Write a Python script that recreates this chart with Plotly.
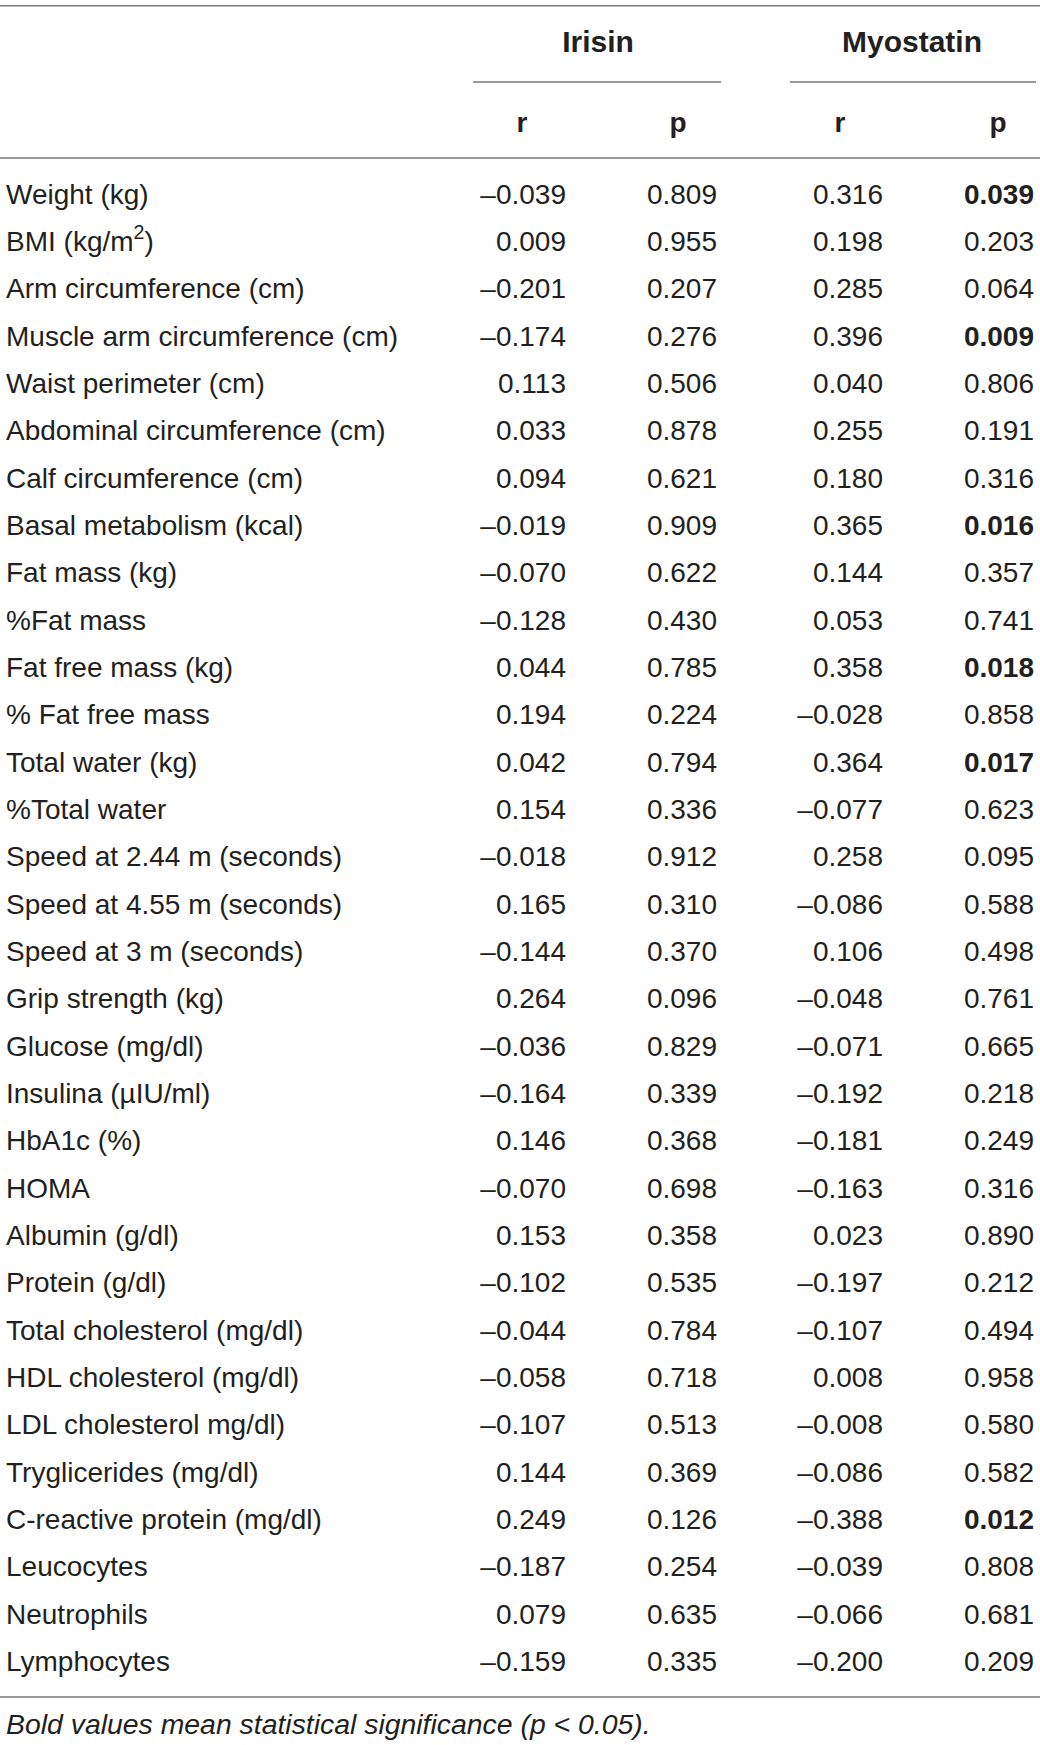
import plotly.graph_objects as go

# table content
variables = [
    "Weight (kg)", "BMI (kg/m<sup>2</sup>)", "Arm circumference (cm)",
    "Muscle arm circumference (cm)", "Waist perimeter (cm)",
    "Abdominal circumference (cm)", "Calf circumference (cm)",
    "Basal metabolism (kcal)", "Fat mass (kg)", "%Fat mass",
    "Fat free mass (kg)", "% Fat free mass", "Total water (kg)",
    "%Total water", "Speed at 2.44 m (seconds)", "Speed at 4.55 m (seconds)",
    "Speed at 3 m (seconds)", "Grip strength (kg)", "Glucose (mg/dl)",
    "Insulina (µIU/ml)", "HbA1c (%)", "HOMA", "Albumin (g/dl)",
    "Protein (g/dl)", "Total cholesterol (mg/dl)", "HDL cholesterol (mg/dl)",
    "LDL cholesterol mg/dl)", "Tryglicerides (mg/dl)",
    "C-reactive protein (mg/dl)", "Leucocytes", "Neutrophils", "Lymphocytes",
]
irisin_r = [-0.039, 0.009, -0.201, -0.174, 0.113, 0.033, 0.094, -0.019, -0.070,
            -0.128, 0.044, 0.194, 0.042, 0.154, -0.018, 0.165, -0.144, 0.264,
            -0.036, -0.164, 0.146, -0.070, 0.153, -0.102, -0.044, -0.058,
            -0.107, 0.144, 0.249, -0.187, 0.079, -0.159]
irisin_p = [0.809, 0.955, 0.207, 0.276, 0.506, 0.878, 0.621, 0.909, 0.622,
            0.430, 0.785, 0.224, 0.794, 0.336, 0.912, 0.310, 0.370, 0.096,
            0.829, 0.339, 0.368, 0.698, 0.358, 0.535, 0.784, 0.718, 0.513,
            0.369, 0.126, 0.254, 0.635, 0.335]
myostatin_r = [0.316, 0.198, 0.285, 0.396, 0.040, 0.255, 0.180, 0.365, 0.144,
               0.053, 0.358, -0.028, 0.364, -0.077, 0.258, -0.086, 0.106,
               -0.048, -0.071, -0.192, -0.181, -0.163, 0.023, -0.197, -0.107,
               0.008, -0.008, -0.086, -0.388, -0.039, -0.066, -0.200]
myostatin_p = [0.039, 0.203, 0.064, 0.009, 0.806, 0.191, 0.316, 0.016, 0.357,
               0.741, 0.018, 0.858, 0.017, 0.623, 0.095, 0.588, 0.498, 0.761,
               0.665, 0.218, 0.249, 0.316, 0.890, 0.212, 0.494, 0.958, 0.580,
               0.582, 0.012, 0.808, 0.681, 0.209]
group_labels = ["Irisin", "Myostatin"]
stat_labels = ["r", "p", "r", "p"]
footnote = "Bold values mean statistical significance (p < 0.05)."

FONT = "Liberation Sans, Arial, sans-serif"
INK = "#231f20"
RULE = "#7a7a7a"
SIZE = 28

# x positions in pixels, y in row units (row 0 = first variable)
label_x = 6
col_right = [566, 717, 883, 1034]
col_center = [522, 678, 840, 998]
group_center = [598, 912]
group_lines = [(473, 721), (790, 1036)]
y_group, y_stat, y_foot = -3.217, -1.502, 32.33
rule_rows = [-4.032, -0.813, 31.696]
y_underline = -2.419


def fmt(v):
    return f"{v:.3f}".replace("-", "\u2013")


def fmt_p(v):
    s = fmt(v)
    return f"<b>{s}</b>" if v < 0.05 else s


rows = list(range(len(variables)))
fig = go.Figure()

fig.add_trace(go.Scatter(x=[label_x] * len(rows), y=rows, text=variables,
                         mode="text", textposition="middle right", cliponaxis=False,
                         textfont=dict(family=FONT, size=SIZE, color=INK)))

columns = [[fmt(v) for v in irisin_r], [fmt(v) for v in irisin_p],
           [fmt(v) for v in myostatin_r], [fmt_p(v) for v in myostatin_p]]
for xr, col in zip(col_right, columns):
    fig.add_trace(go.Scatter(x=[xr] * len(rows), y=rows, text=col,
                             mode="text", textposition="middle left", cliponaxis=False,
                             textfont=dict(family=FONT, size=SIZE, color=INK)))

# headers
fig.add_trace(go.Scatter(x=group_center, y=[y_group] * 2,
                         text=[f"<b>{g}</b>" for g in group_labels],
                         mode="text", textposition="middle center", cliponaxis=False,
                         textfont=dict(family=FONT, size=30, color=INK)))
fig.add_trace(go.Scatter(x=col_center, y=[y_stat] * 4,
                         text=[f"<b>{s}</b>" for s in stat_labels],
                         mode="text", textposition="middle center", cliponaxis=False,
                         textfont=dict(family=FONT, size=SIZE, color=INK)))

# footnote
fig.add_trace(go.Scatter(x=[label_x], y=[y_foot], text=[f"<i>{footnote}</i>"],
                         mode="text", textposition="middle right", cliponaxis=False,
                         textfont=dict(family=FONT, size=28.4, color=INK)))

# rules
for y in rule_rows:
    fig.add_shape(type="line", x0=0, x1=1040, y0=y, y1=y, xref="x", yref="y",
                  line=dict(color=RULE, width=1.5))
for x0, x1 in group_lines:
    fig.add_shape(type="line", x0=x0, x1=x1, y0=y_underline, y1=y_underline,
                  xref="x", yref="y", line=dict(color=RULE, width=1.5))

fig.update_layout(
    width=1040, height=1745, margin=dict(l=0, r=0, t=0, b=0),
    paper_bgcolor="white", plot_bgcolor="white", showlegend=False,
    xaxis=dict(range=[0, 1040], visible=False, fixedrange=True),
    yaxis=dict(range=[32.71, -4.151], visible=False, fixedrange=True),
)

fig.write_html("out.html", config={"displayModeBar": False},
               post_script="document.body.style.margin='0';"
                           "document.body.style.overflow='hidden';")
